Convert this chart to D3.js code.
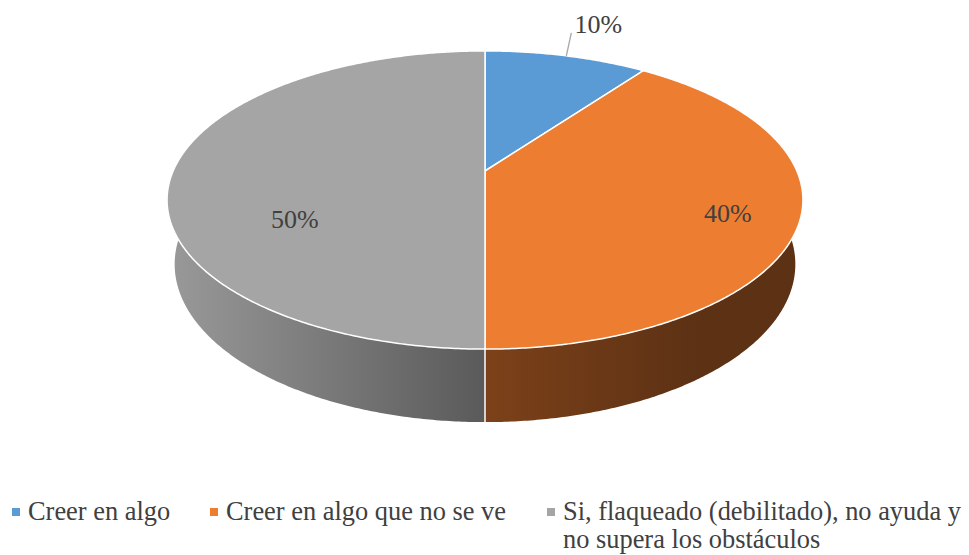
<!DOCTYPE html>
<html><head><meta charset="utf-8">
<script src="https://cdn.jsdelivr.net/npm/d3@7"></script>
<style>body{margin:0;background:#fff}svg{display:block}</style>
</head><body><svg id="c" width="969" height="555"></svg>
<script>
const categories = ["Creer en algo", "Creer en algo que no se ve", "Si, flaqueado (debilitado), no ayuda y no supera los obstáculos"];
const legendLines = [["Creer en algo"], ["Creer en algo que no se ve"], ["Si, flaqueado (debilitado), no ayuda y", "no supera los obstáculos"]];
const values = [10, 40, 50];
const labels = ["10%", "40%", "50%"];
const topColors = ["#5b9bd5", "#ed7d31", "#a5a5a5"];
const sideColors = [["#3f6e98", "#2d5073"], ["#7c4119", "#5c3114"], ["#999999", "#5a5a5a"]];

const FONT = "Liberation Serif";
const svg = d3.select("#c");
const defs = svg.append("defs");

// perspective projection of the tilted disc
const cx = 485, cy = 171, Dc = 1, R = 0.219, F = 1424, sinA = 0.46, cosA = 0.888, depth = 0.0512;
function proj(theta, r, y) {
  const X = r * Math.sin(theta), Z = r * Math.cos(theta);
  const yc = y * cosA + Z * sinA, zc = Dc + Z * cosA - y * sinA;
  return [cx + F * X / zc, cy - F * yc / zc];
}
function arcPts(a0, a1, r, y) {
  const n = Math.max(2, Math.ceil(Math.abs(a1 - a0) / (Math.PI / 360)));
  return d3.range(n + 1).map(i => proj(a0 + (a1 - a0) * i / n, r, y));
}

const pie = d3.pie().sort(null).value(d => d)(values);
const color = d3.scaleOrdinal().domain(d3.range(values.length)).range(topColors);

sideColors.forEach((c, i) => {
  const g = defs.append("linearGradient").attr("id", "sg" + i).attr("gradientUnits", "userSpaceOnUse");
  if (i === 2) g.attr("x1", 170).attr("x2", 485).attr("y1", 0).attr("y2", 0);
  else g.attr("x1", 485).attr("x2", 700).attr("y1", 0).attr("y2", 0);
  g.append("stop").attr("offset", 0).attr("stop-color", c[0]);
  g.append("stop").attr("offset", 1).attr("stop-color", c[1]);
});

const line = d3.line();
const visLo = Math.PI * 0.42, visHi = Math.PI * 1.58;
const sides = svg.append("g");
pie.forEach((p, i) => {
  const a0 = Math.max(p.startAngle, visLo), a1 = Math.min(p.endAngle, visHi);
  if (a1 <= a0) return;
  const pts = arcPts(a0, a1, R, 0).concat(arcPts(a1, a0, R, -depth));
  sides.append("path").attr("d", line(pts) + "Z").attr("fill", `url(#sg${i})`);
});
pie.forEach(p => {
  const a = p.startAngle;
  if (a > visLo && a < visHi) {
    sides.append("path").attr("d", line([proj(a, R, 0), proj(a, R, -depth)]))
      .attr("stroke", "#fff").attr("stroke-width", 1.5);
  }
});

const tops = svg.append("g");
pie.forEach((p, i) => {
  const pts = [proj(0, 0, 0)].concat(arcPts(p.startAngle, p.endAngle, R, 0));
  tops.append("path").attr("d", line(pts) + "Z").attr("fill", color(i))
    .attr("stroke", "#fff").attr("stroke-width", 1.5).attr("stroke-linejoin", "round");
});

function txt(g, x, y, s, anchor, size) {
  return g.append("text").attr("x", x).attr("y", y).attr("font-family", FONT).attr("font-size", size || 26)
    .attr("fill", "#404040").attr("text-anchor", anchor || "start").text(s);
}
const lab = svg.append("g");
{
  const p = pie[0], m = (p.startAngle + p.endAngle) / 2;
  const s = proj(m, R, 0);
  const e = [s[0] + 5, s[1] - 23];
  svg.append("path").attr("d", line([s, e])).attr("stroke", "#a6a6a6").attr("stroke-width", 1.3);
  txt(lab, e[0] + 27, e[1], labels[0], "middle");
}
{
  const p = pie[1], m = (p.startAngle + p.endAngle) / 2;
  const q = proj(m, R * 0.78, 0);
  txt(lab, q[0], q[1] + 15, labels[1], "middle");
}
{
  const q = proj(Math.PI * 1.35, R * 0.655, 0);
  txt(lab, q[0] + 3, q[1] + 12, labels[2], "middle");
}

const legX = [12, 210, 547];
const leg = svg.append("g");
legendLines.forEach((ls, i) => {
  leg.append("rect").attr("x", legX[i]).attr("y", 508).attr("width", 8).attr("height", 8).attr("fill", topColors[i]);
  ls.forEach((t, j) => txt(leg, legX[i] + 16, 520 + j * 28, t, "start", 26.4));
});
</script></body></html>
